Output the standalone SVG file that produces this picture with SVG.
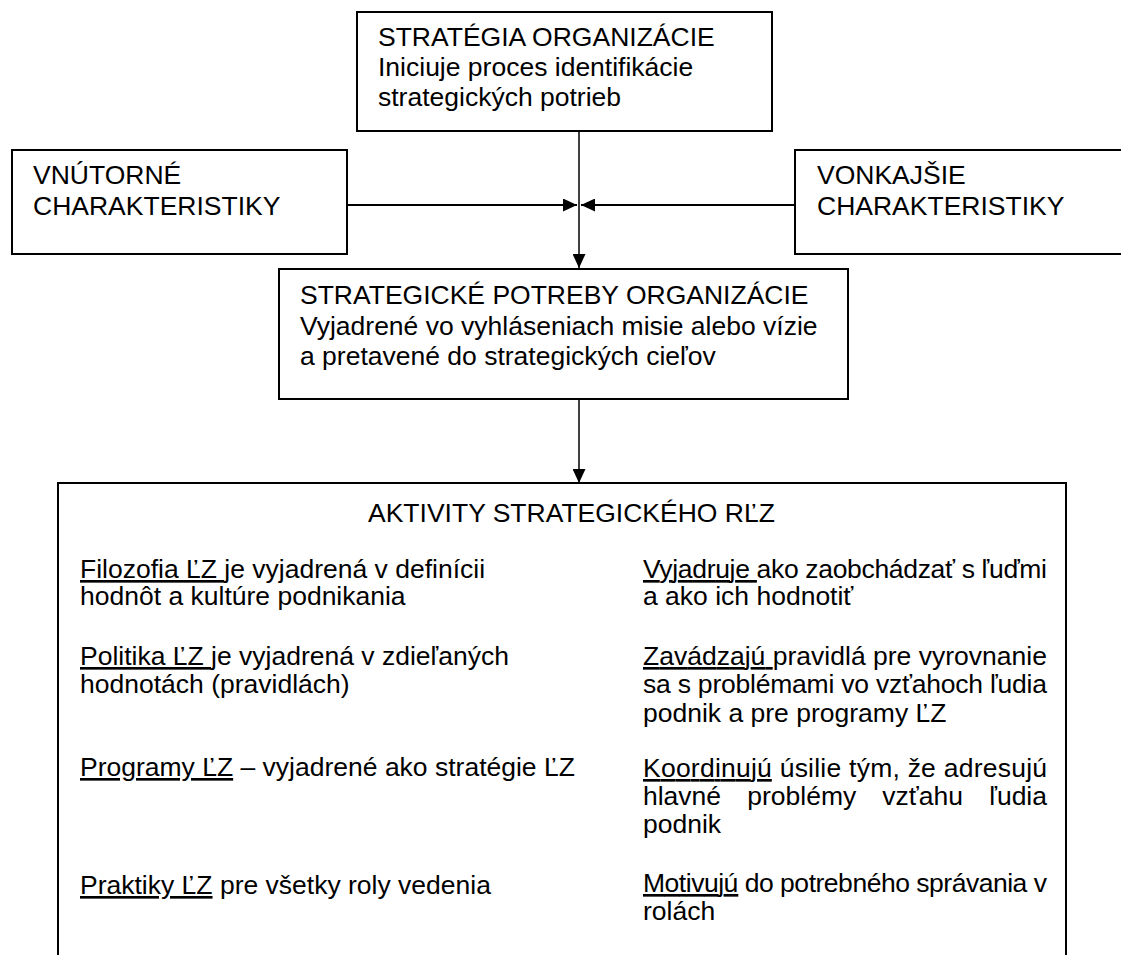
<svg xmlns="http://www.w3.org/2000/svg" width="1121" height="955" viewBox="0 0 1121 955">
  <style>
    .box { fill: #ffffff; stroke: #000000; stroke-width: 2; }
    .t { font-family: "Liberation Sans", Arial, sans-serif; font-size: 26.5px; fill: #000000; white-space: pre; }
    .u { text-decoration: underline; }
    .conn { stroke: #000000; fill: none; }
    .v { stroke-width: 1.5; }
    .h { stroke-width: 2; }
  </style>
  <defs>
    <marker id="arrow" viewBox="0 0 14 13" refX="14" refY="6.5" markerWidth="14" markerHeight="13" markerUnits="userSpaceOnUse" orient="auto">
      <path d="M0,0 L14,6.5 L0,13 Z" fill="#000000"/>
    </marker>
  </defs>

  <rect width="1121" height="955" fill="#ffffff"/>

  <!-- connectors -->
  <g id="connectors">
    <line class="conn v" x1="579" y1="131" x2="579" y2="268" marker-end="url(#arrow)"/>
    <line class="conn h" x1="347" y1="205" x2="577" y2="205" marker-end="url(#arrow)"/>
    <line class="conn h" x1="795" y1="205" x2="581" y2="205" marker-end="url(#arrow)"/>
    <line class="conn v" x1="579" y1="399" x2="579" y2="483" marker-end="url(#arrow)"/>
  </g>

  <!-- strategy of the organisation -->
  <g id="strategia">
    <rect class="box" x="357" y="12" width="415" height="119"/>
    <text class="t" x="378" y="46">STRATÉGIA ORGANIZÁCIE</text>
    <text class="t" x="378" y="76">Iniciuje proces identifikácie</text>
    <text class="t" x="378" y="106">strategických potrieb</text>
  </g>

  <!-- internal characteristics -->
  <g id="vnutorne">
    <rect class="box" x="12" y="150" width="335" height="104"/>
    <text class="t" x="33" y="184">VNÚTORNÉ</text>
    <text class="t" x="33" y="215">CHARAKTERISTIKY</text>
  </g>

  <!-- external characteristics -->
  <g id="vonkajsie">
    <rect class="box" x="795" y="150" width="330" height="104"/>
    <text class="t" x="817" y="184">VONKAJŠIE</text>
    <text class="t" x="817" y="215">CHARAKTERISTIKY</text>
  </g>

  <!-- strategic needs -->
  <g id="potreby">
    <rect class="box" x="279" y="269" width="569" height="130"/>
    <text class="t" x="300" y="304">STRATEGICKÉ POTREBY ORGANIZÁCIE</text>
    <text class="t" x="300" y="335">Vyjadrené vo vyhláseniach misie alebo vízie</text>
    <text class="t" x="300" y="365">a pretavené do strategických cieľov</text>
  </g>

  <!-- strategic HRM activities -->
  <g id="aktivity">
    <rect class="box" x="58" y="483" width="1008" height="490"/>
    <text class="t" x="368" y="522">AKTIVITY STRATEGICKÉHO RĽZ</text>

    <!-- left column -->
    <text class="t" x="80" y="578"><tspan class="u">Filozofia ĽZ </tspan>je vyjadrená v definícii</text>
    <text class="t" x="80" y="605">hodnôt a kultúre podnikania</text>

    <text class="t" x="80" y="665"><tspan class="u">Politika ĽZ </tspan>je vyjadrená v zdieľaných</text>
    <text class="t" x="80" y="693">hodnotách (pravidlách)</text>

    <text class="t" x="80" y="776"><tspan class="u">Programy ĽZ</tspan> – vyjadrené ako stratégie ĽZ</text>

    <text class="t" x="80" y="894"><tspan class="u">Praktiky ĽZ</tspan> pre všetky roly vedenia</text>

    <!-- right column, justified to 643..1047 -->
    <text class="t" x="643" y="578" textLength="404" lengthAdjust="spacing"><tspan class="u">Vyjadruje </tspan>ako zaobchádzať s ľuďmi</text>
    <text class="t" x="643" y="605">a ako ich hodnotiť</text>

    <text class="t" x="643" y="665" textLength="404" lengthAdjust="spacing"><tspan class="u">Zavádzajú </tspan>pravidlá pre vyrovnanie</text>
    <text class="t" x="643" y="693" textLength="404" lengthAdjust="spacing">sa s problémami vo vzťahoch ľudia</text>
    <text class="t" x="643" y="722">podnik a pre programy ĽZ</text>

    <text class="t" x="643" y="777" textLength="404" lengthAdjust="spacing"><tspan class="u">Koordinujú</tspan> úsilie tým, že adresujú</text>
    <text class="t" x="643" y="805" textLength="404" lengthAdjust="spacing" word-spacing="18.8">hlavné problémy vzťahu ľudia</text>
    <text class="t" x="643" y="833">podnik</text>

    <text class="t" x="643" y="892" textLength="404" lengthAdjust="spacing"><tspan class="u">Motivujú</tspan> do potrebného správania v</text>
    <text class="t" x="643" y="920">rolách</text>
  </g>
</svg>
